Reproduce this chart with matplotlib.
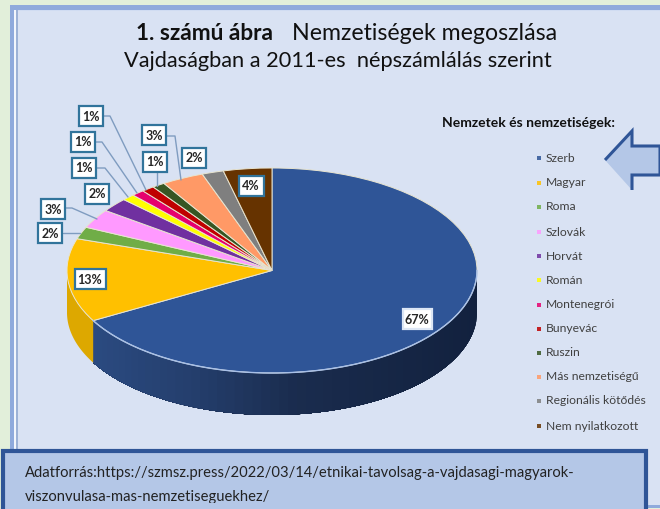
import numpy as np
import matplotlib
matplotlib.use("Agg")
import matplotlib.pyplot as plt
from matplotlib.patches import Polygon, Rectangle

categories = ["Szerb", "Magyar", "Roma", "Szlovák", "Horvát", "Román", "Montenegrói",
              "Bunyevác", "Ruszin", "Más nemzetiségű", "Regionális kötődés", "Nem nyilatkozott"]
values = [66.6, 13.1, 1.9, 3.0, 2.2, 1.0, 1.0, 1.0, 1.0, 3.3, 1.7, 3.8]
labels = ["67%", "13%", "2%", "3%", "2%", "1%", "1%", "1%", "1%", "3%", "2%", "4%"]
colors = ["#2F5597", "#FFC000", "#70AD47", "#FF99FF", "#7030A0", "#FFFF00",
          "#E6006E", "#C00000", "#375623", "#FF9966", "#7F7F7F", "#663300"]
side_colors = ["#24406F", "#DDA800", "#5A8A39", "#CC7ACC", "#5A2680", "#CCCC00",
               "#B80058", "#990000", "#2C451C", "#CC7A52", "#666666", "#522900"]
title_bold = "1. számú ábra"
title_rest = "Nemzetiségek megoszlása"
title_2 = "Vajdaságban a 2011-es  népszámlálás szerint"
legend_title = "Nemzetek és nemzetiségek:"
source_1 = "Adatforrás:https://szmsz.press/2022/03/14/etnikai-tavolsag-a-vajdasagi-magyarok-"
source_2 = "viszonvulasa-mas-nemzetiseguekhez/"

W, H = 660, 509
plt.rcParams["font.family"] = ["Lato", "DejaVu Sans"]
fig = plt.figure(figsize=(W / 100, H / 100), dpi=100, facecolor="#E2EFDA")

bg = fig.add_axes([0, 0, 1, 1], zorder=0)
bg.set_xlim(0, W); bg.set_ylim(H, 0); bg.axis("off")
bg.add_patch(Rectangle((10, 5), W - 10, 503, fc="#8FAADC", ec="none"))
bg.add_patch(Rectangle((14, 10), W - 14, 495, fc="#D0DCF2", ec="none"))
bg.add_patch(Rectangle((14, 10), 1.5, 495, fc="#F2F6FC", ec="none"))
bg.add_patch(Rectangle((15.5, 10), 2.5, 495, fc="#9DB2D6", ec="none"))
bg.add_patch(Rectangle((18, 11), W - 18, 494, fc="#D9E2F3", ec="none"))

# Pie geometry in pixels
cx, cy, a, b, depth = 272, 270.5, 205, 102.5, 42
fr = np.array(values) / sum(values)
edges = np.concatenate([[0], np.cumsum(fr)]) * 2 * np.pi  # clockwise from top


def blue_shade(x):
    xs = [90, 200, 300, 480]
    rgb = np.array([[0x2B, 0x4B, 0x82], [0x24, 0x3E, 0x6C], [0x1A, 0x2C, 0x4E], [0x12, 0x21, 0x3E]]) / 255
    return [np.interp(x, xs, rgb[:, k]) for k in range(3)]


for i, (t0, t1) in enumerate(zip(edges[:-1], edges[1:])):
    lo, hi = max(t0, np.pi / 2), min(t1, 3 * np.pi / 2)
    if hi <= lo:
        continue
    n = 60 if i == 0 else 1
    steps = np.linspace(lo, hi, n + 1)
    for s0 in steps[:-1]:
        # each band runs on to the end of the slice so neighbours leave no seams
        t = np.linspace(s0, hi, 120)
        x, y = cx + a * np.sin(t), cy - b * np.cos(t)
        pts = np.r_[np.c_[x, y], np.c_[x, y + depth][::-1]]
        c = blue_shade(x[0]) if i == 0 else side_colors[i]
        bg.add_patch(Polygon(pts, fc=c, ec="none", zorder=2))

pie_ax = fig.add_axes([(cx - a) / W, 1 - (cy + b) / H, 2 * a / W, 2 * b / H], zorder=1)
pie_ax.patch.set_alpha(0)
wedges, _ = pie_ax.pie(values, colors=colors, startangle=90, counterclock=False, radius=1,
                       wedgeprops=dict(linewidth=0.7, edgecolor="#E8E4D0"))
pie_ax.set_aspect("auto")
pie_ax.set_xlim(-1, 1); pie_ax.set_ylim(-1, 1)

ov = fig.add_axes([0, 0, 1, 1], zorder=3)
ov.set_xlim(0, W); ov.set_ylim(H, 0); ov.axis("off")

# Light rim on the front of the blue slice
t = np.linspace(np.pi / 2, edges[1], 100)
ov.plot(cx + a * np.sin(t), cy - b * np.cos(t), color="#A8C0E8", lw=1.0)

leaders = [
    [(104, 116), (110, 116), (146, 190)],
    [(96, 142), (102, 142), (137, 193)],
    [(97, 168), (105, 168), (128, 197)],
    [(66, 208), (72, 208), (97, 219)],
    [(63, 233), (80, 233)],
    [(157, 172), (157, 186)],
    [(167, 136), (175, 136), (181, 180)],
]
for pts in leaders:
    xs, ys = zip(*pts)
    ov.plot(xs, ys, color="#7F9CC0", lw=1.0, solid_capstyle="round")

label_pos = [(417, 319), (90, 279), (50, 233), (53, 209), (97, 194), (84, 168),
             (83, 142), (91, 116), (155, 162), (154, 135), (194, 158), (251, 186)]
box_w = [29, 31, 24, 24, 24, 24, 24, 24, 24, 24, 24, 25]
for (x, y), s, w, wh in zip(label_pos, labels, box_w, [0] + [1] * 11):
    ov.add_patch(Rectangle((x - w / 2, y - 10), w, 20, fc="white",
                           ec="#31749B" if wh else "#DCE6F5", lw=1.6, zorder=5))
    ov.text(x, y + 0.5, s, ha="center", va="center", fontsize=9, fontweight="bold",
            color="#262626", zorder=6)

ov.text(136, 33, title_bold, ha="left", va="center", fontsize=16.3, fontweight="bold", color="#111111")
ov.text(292, 33, title_rest, ha="left", va="center", fontsize=16.7, color="#111111")
ov.text(124, 61, title_2, ha="left", va="center", fontsize=15.7, color="#111111")

ov.text(442, 123, legend_title, ha="left", va="center", fontsize=10, fontweight="bold", color="#111111")
leg_y = [158, 183, 207, 232, 256, 280, 305, 329, 353, 377, 401, 426]
for y, c, n in zip(leg_y, colors, categories):
    ov.add_patch(Rectangle((537, y - 2), 4, 4, fc=c, ec="none", alpha=0.85))
    ov.text(546, y, n, ha="left", va="center", fontsize=8.7, color="#404040")

arrow = [(605, 160), (632, 131), (632, 146), (660, 146), (660, 175), (632, 175), (632, 190), (605, 160)]
ov.add_patch(Polygon(arrow, closed=False, fc="#B4C7E7", ec="#2F5597", lw=2.2, zorder=4))

ov.add_patch(Rectangle((3, 451), 643, 62, fc="#B4C7E7", ec="#2F5597", lw=3, zorder=7))
ov.text(25, 473, source_1, ha="left", va="center", fontsize=10.6, color="#222222", zorder=8)
txt = ov.text(25, 497, source_2, ha="left", va="center", fontsize=10.6, color="#222222", zorder=8)
txt.set_clip_path(Rectangle((0, 440), W, 62.5, transform=ov.transData))
txt.set_clip_on(True)

fig.savefig("out.png", dpi=100, facecolor=fig.get_facecolor())
